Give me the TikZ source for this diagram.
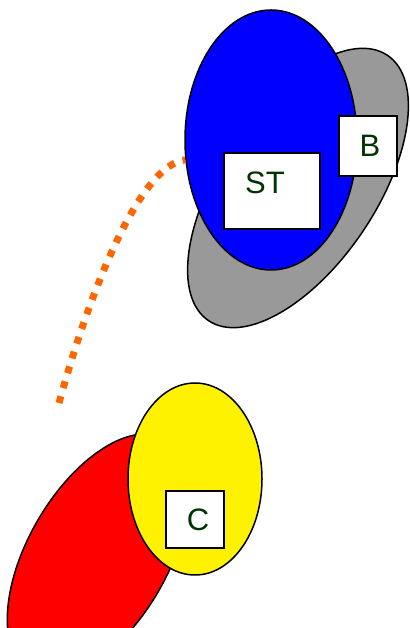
\documentclass[tikz,border=0pt]{standalone}
\usepackage{fontspec}
\setmainfont{Liberation Sans}
\usetikzlibrary{shapes.geometric}
\definecolor{leaf}{RGB}{0,51,0}
\definecolor{dots}{RGB}{255,102,0}
\definecolor{ash}{RGB}{153,153,153}
\begin{document}
\begin{tikzpicture}[x=1pt,y=1pt,
    blob/.style={ellipse,draw,line width=1.5pt,inner sep=0pt},
    tag/.style={rectangle,draw,fill=white,line width=1.5pt,inner sep=0pt},
    word/.style={text=leaf,font=\fontsize{31}{37}\selectfont}]
    \clip (0,0) rectangle (409,628);
    % lower pair
    \node[blob,fill=red,minimum width=270,minimum height=140,rotate=60] (red) at (98,72) {};
    \node[blob,fill=yellow,minimum width=134,minimum height=192] (yellow) at (195,149) {};
    \node[tag,minimum width=58,minimum height=57,
        label={[word,xshift=3]center:C}] (c) at (195,108.5) {};
    % upper pair
    \node[blob,fill=ash,minimum width=320,minimum height=156,rotate=56] (gray) at (298,440) {};
    \node[blob,fill=blue,minimum width=172,minimum height=260] (blue) at (271,488) {};
    \node[tag,minimum width=96,minimum height=76,
        label={[word,xshift=-7,yshift=8]center:ST}] (st) at (272,437) {};
    \node[tag,minimum width=58,minimum height=60,
        label={[word,xshift=2]center:B}] (b) at (368,482) {};
    % link
    \coordinate (tail) at (59,225);
    \draw[dots,line width=7pt,dash pattern=on 7pt off 8.5pt]
        (tail) .. controls (90,338) and (140,463) .. (blue.193);
\end{tikzpicture}
\end{document}
